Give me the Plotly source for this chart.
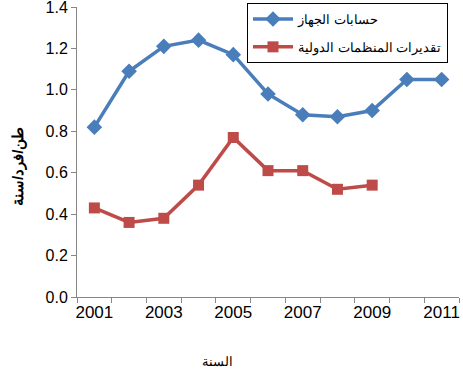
import plotly.graph_objects as go

years = [2001, 2002, 2003, 2004, 2005, 2006, 2007, 2008, 2009, 2010, 2011]
device_calc = [0.82, 1.09, 1.21, 1.24, 1.17, 0.98, 0.88, 0.87, 0.90, 1.05, 1.05]
intl_years = [2001, 2002, 2003, 2004, 2005, 2006, 2007, 2008, 2009]
intl_est = [0.43, 0.36, 0.38, 0.54, 0.77, 0.61, 0.61, 0.52, 0.54]
name_blue = "حسابات الجهاز"
name_red = "تقديرات المنظمات الدولية"
x_title = "السنة"
y_title = "طن/فرد/سنة"
x_ticks = [2001, 2003, 2005, 2007, 2009, 2011]
y_ticks = [0.0, 0.2, 0.4, 0.6, 0.8, 1.0, 1.2, 1.4]

fig = go.Figure()
fig.add_trace(go.Scatter(x=years, y=device_calc, name=name_blue, mode="lines+markers",
                         line=dict(color="#4A7EBB", width=3.5),
                         marker=dict(symbol="diamond", size=12, color="#4A7EBB"),
                         legendgroup="a", cliponaxis=False))
fig.add_trace(go.Scatter(x=intl_years, y=intl_est, name=name_red, mode="lines+markers",
                         line=dict(color="#BE4B48", width=3.5),
                         marker=dict(symbol="square", size=11, color="#BE4B48"),
                         legendgroup="b", cliponaxis=False))

axis_col = "#868686"
L, R, T, B = 77, 4, 7, 74
W, H = 463, 371
pw, ph = W - L - R, H - T - B


def px2paper(px, py):
    return (px - L) / pw, 1 - (py - T) / ph


xt_x, xt_y = px2paper(217, 361)
yt_x, yt_y = px2paper(18, 167)
lg_x, lg_y = px2paper(247, 3)

fig.update_layout(
    width=W, height=H,
    margin=dict(l=L, r=R, t=T, b=B, autoexpand=False),
    plot_bgcolor="white", paper_bgcolor="white",
    font=dict(family="Liberation Sans, Arial", color="black"),
    showlegend=True,
    legend=dict(x=lg_x, y=lg_y, xanchor="left", yanchor="top",
                bordercolor="black", borderwidth=1, bgcolor="white",
                font=dict(size=13), itemwidth=40, tracegroupgap=8),
    xaxis=dict(range=[2000.5, 2011.5], tickmode="array", tickvals=x_ticks,
               ticktext=[str(v) for v in x_ticks], ticks="", showgrid=False,
               showline=True, linecolor=axis_col, linewidth=1, automargin=False,
               tickfont=dict(size=17), ticklabeloverflow="allow",
               minor=dict(tickmode="array", tickvals=[y - 0.5 for y in years] + [2011.5],
                          ticks="outside", ticklen=5, tickcolor=axis_col, showgrid=False),
               zeroline=False),
    yaxis=dict(range=[0, 1.4], tickmode="array", tickvals=y_ticks,
               tickformat=".1f", ticks="outside", ticklen=5, tickcolor=axis_col,
               showgrid=False, showline=True, linecolor=axis_col, linewidth=1,
               automargin=False, tickfont=dict(size=16), zeroline=False,
               ticklabeloverflow="allow"),
    annotations=[
        dict(text=x_title, x=xt_x, y=xt_y, xref="paper", yref="paper", showarrow=False,
             xanchor="center", yanchor="middle", font=dict(size=13)),
        dict(text="<b>" + y_title + "</b>", x=yt_x, y=yt_y, xref="paper", yref="paper",
             xanchor="center", yanchor="middle",
             showarrow=False, textangle=-90, font=dict(size=15)),
    ],
)

fig.write_html("out.html", config={"displayModeBar": False},
               post_script="document.body.style.margin='0';document.body.style.padding='0';")
